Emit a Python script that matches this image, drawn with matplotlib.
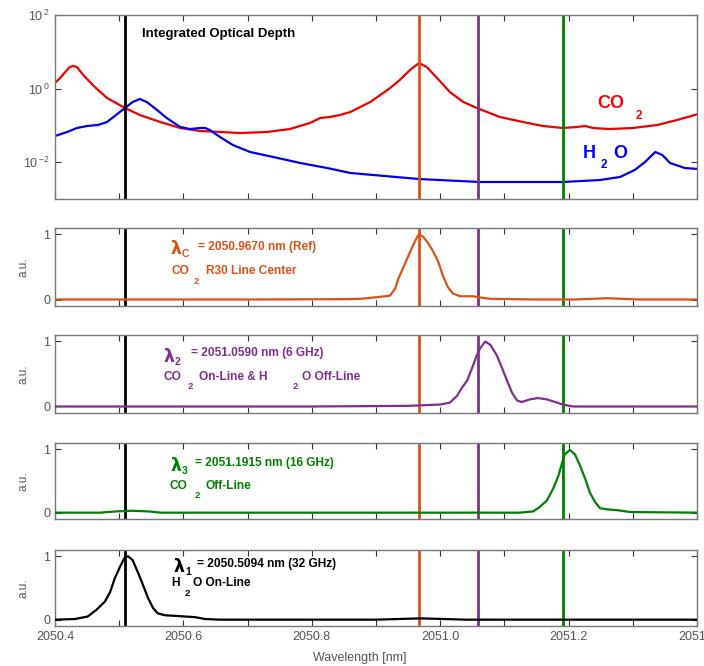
import numpy as np
import matplotlib.pyplot as plt

plt.rcParams['font.family'] = ['Liberation Sans', 'DejaVu Sans']

# laser wavelengths [nm]
lam_1 = 2050.5094
lam_c = 2050.9670
lam_2 = 2051.0590
lam_3 = 2051.1915

# integrated optical depth (log10 values)
co2_wl = [2050.400, 2050.408, 2050.416, 2050.423, 2050.428, 2050.434, 2050.444, 2050.462,
          2050.481, 2050.509, 2050.532, 2050.564, 2050.595, 2050.626, 2050.657, 2050.688,
          2050.730, 2050.766, 2050.797, 2050.813, 2050.828, 2050.844, 2050.860, 2050.891,
          2050.922, 2050.937, 2050.953, 2050.967, 2050.979, 2050.995, 2051.015, 2051.036,
          2051.057, 2051.093, 2051.129, 2051.160, 2051.191, 2051.213, 2051.226, 2051.238,
          2051.264, 2051.300, 2051.338, 2051.369, 2051.402]
co2_log10 = [0.152, 0.288, 0.451, 0.587, 0.614, 0.587, 0.370, 0.043,
             -0.255, -0.527, -0.717, -0.908, -1.071, -1.152, -1.179, -1.207,
             -1.179, -1.098, -0.935, -0.799, -0.772, -0.717, -0.636, -0.364,
             0.016, 0.234, 0.505, 0.696, 0.587, 0.288, -0.092, -0.364,
             -0.527, -0.772, -0.908, -1.016, -1.071, -1.043, -1.016, -1.071,
             -1.098, -1.071, -0.989, -0.853, -0.690]

h2o_wl = [2050.400, 2050.419, 2050.434, 2050.450, 2050.467, 2050.481, 2050.497, 2050.509,
          2050.521, 2050.532, 2050.543, 2050.559, 2050.574, 2050.595, 2050.610, 2050.626,
          2050.634, 2050.641, 2050.657, 2050.677, 2050.704, 2050.740, 2050.782, 2050.824,
          2050.860, 2050.967, 2051.062, 2051.191, 2051.249, 2051.280, 2051.303, 2051.319,
          2051.335, 2051.346, 2051.358, 2051.381, 2051.402]
h2o_log10 = [-1.288, -1.179, -1.071, -1.016, -0.989, -0.908, -0.690, -0.527,
             -0.364, -0.283, -0.364, -0.582, -0.799, -1.043, -1.098, -1.071,
             -1.071, -1.125, -1.315, -1.533, -1.723, -1.859, -2.022, -2.158,
             -2.293, -2.457, -2.538, -2.538, -2.484, -2.402, -2.212, -1.995,
             -1.723, -1.804, -2.022, -2.158, -2.185]

# normalised laser spectra
ref_wl = [2050.400, 2050.700, 2050.850, 2050.875, 2050.906, 2050.922, 2050.930, 2050.934,
          2050.942, 2050.950, 2050.958, 2050.964, 2050.967, 2050.973, 2050.981, 2050.989,
          2050.997, 2051.004, 2051.012, 2051.020, 2051.031, 2051.051, 2051.062, 2051.078,
          2051.150, 2051.210, 2051.235, 2051.260, 2051.285, 2051.310, 2051.400]
ref_val = [0.0, 0.0, 0.005, 0.01, 0.04, 0.06, 0.17, 0.30,
           0.48, 0.66, 0.84, 0.96, 1.0, 0.97, 0.87, 0.74,
           0.58, 0.37, 0.19, 0.09, 0.05, 0.05, 0.03, 0.01,
           0.0, 0.0, 0.01, 0.02, 0.01, 0.0, 0.0]

on_wl = [2050.400, 2050.800, 2050.950, 2051.000, 2051.015, 2051.026, 2051.034, 2051.042,
         2051.050, 2051.057, 2051.062, 2051.070, 2051.078, 2051.088, 2051.096, 2051.104,
         2051.112, 2051.120, 2051.127, 2051.140, 2051.152, 2051.166, 2051.179, 2051.191,
         2051.207, 2051.400]
on_val = [0.0, 0.0, 0.01, 0.03, 0.06, 0.16, 0.29, 0.40,
          0.60, 0.79, 0.89, 1.0, 0.95, 0.79, 0.60, 0.40,
          0.21, 0.09, 0.07, 0.11, 0.13, 0.11, 0.07, 0.03,
          0.0, 0.0]

off_wl = [2050.400, 2050.470, 2050.495, 2050.520, 2050.545, 2050.565, 2051.100, 2051.124,
          2051.145, 2051.155, 2051.166, 2051.176, 2051.184, 2051.190, 2051.194, 2051.202,
          2051.210, 2051.218, 2051.226, 2051.233, 2051.241, 2051.249, 2051.262, 2051.275,
          2051.296, 2051.400]
off_val = [0.0, 0.0, 0.02, 0.03, 0.02, 0.0, 0.0, 0.0,
           0.02, 0.09, 0.19, 0.38, 0.58, 0.79, 0.92, 0.99,
           0.92, 0.74, 0.53, 0.32, 0.17, 0.07, 0.05, 0.04,
           0.01, 0.0]

h2o_on_wl = [2050.400, 2050.431, 2050.451, 2050.465, 2050.478, 2050.486, 2050.493, 2050.501,
             2050.509, 2050.514, 2050.521, 2050.529, 2050.537, 2050.545, 2050.553, 2050.560,
             2050.571, 2050.587, 2050.602, 2050.618, 2050.634, 2050.657, 2050.900, 2050.940,
             2050.970, 2051.000, 2051.040, 2051.400]
h2o_on_val = [0.0, 0.01, 0.05, 0.16, 0.29, 0.44, 0.65, 0.83,
              0.99, 1.0, 0.94, 0.75, 0.55, 0.34, 0.18, 0.10,
              0.07, 0.06, 0.05, 0.04, 0.01, 0.0, 0.0, 0.012,
              0.02, 0.012, 0.0, 0.0]

xticks = [2050.4, 2050.5, 2050.6, 2050.7, 2050.8, 2050.9, 2051.0, 2051.1, 2051.2, 2051.3, 2051.4]
xticklabels = ['2050.4', '', '2050.6', '', '2050.8', '', '2051.0', '', '2051.2', '', '2051.4']

ORANGE = '#D95319'
PURPLE = '#7E2F8E'
GREEN = '#008000'
GRAY = '#555555'

W, H = 704, 666
fig = plt.figure(figsize=(W / 100, H / 100), dpi=100)


def px_axes(top, bottom, left=55, right=697):
    return fig.add_axes([left / W, 1 - bottom / H, (right - left) / W, (bottom - top) / H])


def ptext(x, y, s, **kw):
    kw.setdefault('ha', 'left')
    kw.setdefault('va', 'center')
    fig.text(x / W, 1 - y / H, s, **kw)


def style(ax, bottom_labels=False):
    ax.set_xlim(2050.4, 2051.4)
    ax.set_xticks(xticks)
    if bottom_labels:
        ax.set_xticklabels(xticklabels)
    else:
        ax.set_xticklabels([])
    ax.tick_params(direction='in', top=True, right=True, length=4, width=0.8,
                   color='#333333', labelcolor=GRAY, labelsize=9)
    ax.tick_params(which='minor', left=False, right=False)
    for s in ax.spines.values():
        s.set_color('#777777')
        s.set_linewidth(1.0)


def vlines(ax):
    ax.axvline(lam_1, color='black', lw=2)
    ax.axvline(lam_c, color=ORANGE, lw=2)
    ax.axvline(lam_2, color=PURPLE, lw=2)
    ax.axvline(lam_3, color=GREEN, lw=2)


# top panel: optical depth
ax0 = px_axes(15, 199)
ax0.plot(co2_wl, 10 ** np.array(co2_log10), color='#EE0000', lw=1.6)
ax0.plot(h2o_wl, 10 ** np.array(h2o_log10), color='#0000EE', lw=1.6)
vlines(ax0)
ax0.set_yscale('log')
ax0.set_ylim(1e-3, 1e2)
ax0.set_yticks([1e-2, 1, 1e2])
ax0.set_yticklabels([r'10$^{\,\mathregular{-2}}$', r'10$^{\,\mathregular{0}}$', r'10$^{\,\mathregular{2}}$'])
style(ax0)
ptext(142, 34, 'Integrated Optical Depth', fontsize=9.5, fontweight='bold')
ptext(597, 103, 'CO', fontsize=13, fontweight='bold', color='#FF0000')
ptext(636, 116, '2', fontsize=8.5, fontweight='bold', color='#FF0000')
ptext(583, 153, 'H', fontsize=13, fontweight='bold', color='#0000FF')
ptext(601, 165, '2', fontsize=8.5, fontweight='bold', color='#0000FF')
ptext(613, 153, 'O', fontsize=13, fontweight='bold', color='#0000FF')

panels = [
    ((228, 306), ref_wl, ref_val, ORANGE),
    ((335, 413), on_wl, on_val, PURPLE),
    ((443, 519), off_wl, off_val, GREEN),
    ((550, 626), h2o_on_wl, h2o_on_val, 'black'),
]
for i, ((top, bot), wl, val, col) in enumerate(panels):
    ax = px_axes(top, bot)
    vlines(ax)
    ax.plot(wl, val, color=col, lw=1.6, zorder=3)
    ax.set_ylim(-0.1, 1.1)
    ax.set_yticks([0, 1])
    ax.set_yticklabels(['0', '1'])
    style(ax, bottom_labels=(i == 3))
    ax.set_ylabel('a.u.', fontsize=8.5, color=GRAY, labelpad=10)

lam_kw = dict(fontsize=12.5, fontweight='bold', family='DejaVu Sans')
sub_kw = dict(fontsize=7.5, fontweight='bold')
txt_kw = dict(fontsize=8.6, fontweight='bold')
s2_kw = dict(fontsize=6.8, fontweight='bold')

# panel 2
ptext(171, 249, 'λ', color=ORANGE, **lam_kw)
ptext(182, 254, 'C', color=ORANGE, **sub_kw)
ptext(198, 247, '= 2050.9670 nm (Ref)', color=ORANGE, **txt_kw)
ptext(171, 271, 'CO', color=ORANGE, **txt_kw)
ptext(194, 281, '2', color=ORANGE, **s2_kw)
ptext(206, 271, 'R30 Line Center', color=ORANGE, **txt_kw)

# panel 3
ptext(164, 357, 'λ', color=PURPLE, **lam_kw)
ptext(175, 362, '2', color=PURPLE, **sub_kw)
ptext(191, 353, '= 2051.0590 nm (6 GHz)', color=PURPLE, **txt_kw)
ptext(163, 377, 'CO', color=PURPLE, **txt_kw)
ptext(188, 387, '2', color=PURPLE, **s2_kw)
ptext(199, 377, 'On-Line & H', color=PURPLE, **txt_kw)
ptext(293, 387, '2', color=PURPLE, **s2_kw)
ptext(302, 377, 'O Off-Line', color=PURPLE, **txt_kw)

# panel 4
ptext(171, 466, 'λ', color=GREEN, **lam_kw)
ptext(182, 471, '3', color=GREEN, **sub_kw)
ptext(195, 463, '= 2051.1915 nm (16 GHz)', color=GREEN, **txt_kw)
ptext(170, 486, 'CO', color=GREEN, **txt_kw)
ptext(195, 496, '2', color=GREEN, **s2_kw)
ptext(205, 486, 'Off-Line', color=GREEN, **txt_kw)

# panel 5
ptext(174, 567, 'λ', color='black', **lam_kw)
ptext(185, 572, '1', color='black', **sub_kw)
ptext(197, 564, '= 2050.5094 nm (32 GHz)', color='black', **txt_kw)
ptext(171, 583, 'H', color='black', **txt_kw)
ptext(185, 593, '2', color='black', **s2_kw)
ptext(193, 583, 'O On-Line', color='black', **txt_kw)

ptext(360, 658, 'Wavelength [nm]', ha='center', fontsize=9, color=GRAY)

fig.savefig('out.png', dpi=100)
